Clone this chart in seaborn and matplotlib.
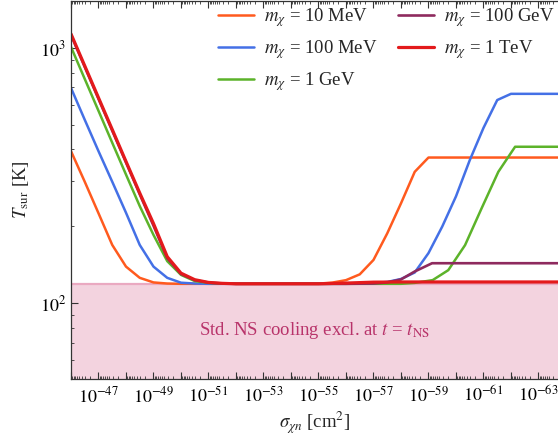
import numpy as np
import pandas as pd
import matplotlib
matplotlib.use("Agg")
import matplotlib.pyplot as plt
import matplotlib.ticker as mticker
import seaborn as sns

# ---- data (log10 of sigma in cm^2, surface temperature in K) ----
labels = [r"$m_\chi$ = 10 MeV", r"$m_\chi$ = 100 MeV", r"$m_\chi$ = 1 GeV",
          r"$m_\chi$ = 100 GeV", r"$m_\chi$ = 1 TeV"]
colors = ["#ff5a1e", "#4470e6", "#5cb32a", "#8e2a5e", "#e31a1c"]

logsig_10MeV = [-46, -46.5, -47, -47.5, -48, -48.5, -49, -49.5, -50, -55, -55.5, -56,
                -56.5, -57, -57.5, -58, -58.5, -59, -64]
T_10MeV = [394, 299, 225, 169, 139, 125.6, 120.5, 119.3, 119, 119.2, 120.3, 123,
           129.6, 147.6, 187.6, 246, 327, 372, 372]

logsig_100MeV = [-46, -46.5, -47, -47.5, -48, -48.5, -49, -49.5, -50, -50.5, -51, -56,
                 -57, -57.5, -58, -58.5, -59, -59.5, -60, -60.5, -61, -61.5, -62, -64]
T_100MeV = [697, 523, 394, 299, 226, 169, 139, 125.6, 120.2, 119.3, 119, 119,
            119.8, 121, 124.3, 131.8, 157, 199.5, 262, 363, 486, 625, 661, 661]

logsig_1GeV = [-46, -46.5, -47, -47.5, -48, -48.5, -49, -49.5, -50, -50.5, -51, -51.5,
               -52, -58, -58.5, -59.15, -59.72, -60.33, -60.93, -61.54, -62.15, -64]
T_1GeV = [1009, 756, 567, 425, 319, 240, 185, 146, 129, 122, 120, 119.3,
          119, 119, 120, 123, 134.6, 168.7, 235, 327, 410, 410]

logsig_100GeV = [-46, -46.5, -47, -47.5, -48, -48.5, -49, -49.5, -50, -50.5, -51, -51.5,
                 -52, -56, -57, -57.5, -58, -58.5, -59.13, -64]
T_100GeV = [1125, 843, 632, 474, 356, 267, 201, 150, 130, 123, 120.3, 119.4,
            119, 119, 119.3, 120.5, 123.8, 133, 143.3, 143.3]

logsig_1TeV = [-46, -46.5, -47, -47.5, -48, -48.5, -49, -49.5, -50, -50.5, -51, -51.5,
               -52, -55, -56, -57, -58, -64]
T_1TeV = [1135, 851, 638, 479, 359, 270, 205, 152, 131, 123.5, 120.5, 119.5,
          119, 119, 119.8, 120.8, 121, 121]

T_excl = 119          # top of excluded band
band_text = r"Std. NS cooling excl. at $t$ = $t_{\rm NS}$"

series = [(logsig_10MeV, T_10MeV), (logsig_100MeV, T_100MeV), (logsig_1GeV, T_1GeV),
          (logsig_100GeV, T_100GeV), (logsig_1TeV, T_1TeV)]

frames = []
for lab, (ls, ts) in zip(labels, series):
    frames.append(pd.DataFrame({"sigma": 10.0 ** np.array(ls, dtype=float),
                                "T": ts, "mass": lab}))
df = pd.concat(frames, ignore_index=True)

# ---- style ----
sns.set_style("ticks")
plt.rcParams["font.family"] = ["Liberation Serif", "DejaVu Serif"]
plt.rcParams["mathtext.fontset"] = "stix"

fig = plt.figure(figsize=(5.58, 4.42), dpi=100)
ax = fig.add_axes([71 / 558, 63 / 442, 487 / 558, 378 / 442])

ylo, yhi = 50.4, 1528
ax.axhspan(ylo, T_excl, color="#f3d3df", lw=0, zorder=0)
ax.axhline(T_excl, color="#eaa9c1", lw=1.6, zorder=0.5)

widths = [1.8, 1.8, 1.8, 1.9, 2.3]
for lab, col, w in zip(labels, colors, widths):
    sns.lineplot(data=df[df["mass"] == lab], x="sigma", y="T", color=col,
                 linewidth=w, label=lab, ax=ax, sort=False, estimator=None)

ax.set_xscale("log")
ax.set_yscale("log")
ax.set_xlim(1e-46, 10 ** -63.71)
ax.set_ylim(ylo, yhi)

# x ticks: every decade, labels on odd exponents
majors = [10.0 ** e for e in range(-46, -65, -1)]
ax.xaxis.set_major_locator(mticker.FixedLocator(majors))
def xfmt(v, pos):
    e = int(round(np.log10(v)))
    return r"$10^{%d}$" % e if e % 2 != 0 else ""
ax.xaxis.set_major_formatter(mticker.FuncFormatter(xfmt))
ax.xaxis.set_minor_locator(mticker.LogLocator(base=10, subs=np.arange(2, 10), numticks=100))
ax.xaxis.set_minor_formatter(mticker.NullFormatter())

ax.yaxis.set_major_locator(mticker.FixedLocator([100, 1000]))
ax.yaxis.set_major_formatter(mticker.FixedFormatter([r"$10^{2}$", r"$10^{3}$"]))
ax.yaxis.set_minor_locator(mticker.LogLocator(base=10, subs=np.arange(2, 10), numticks=100))
ax.yaxis.set_minor_formatter(mticker.NullFormatter())

ax.tick_params(which="both", direction="in", top=True, right=False, colors="#333333",
               labelcolor="black")
ax.tick_params(which="major", length=5, width=0.8, labelsize=13)
ax.tick_params(which="minor", length=2.5, width=0.6)
ax.tick_params(axis="x", pad=5)
for s in ["left", "bottom", "top"]:
    ax.spines[s].set_color("#333333")
    ax.spines[s].set_linewidth(0.9)
ax.spines["right"].set_visible(False)

ax.set_xlabel(r"$\sigma_{\chi n}$ [cm$^2$]", fontsize=13.5, labelpad=3)
ax.set_ylabel(r"$T_{\rm sur}$ [K]", fontsize=13.5, labelpad=6)

ax.text(10 ** -54.87, 78.3, band_text, color="#b8336a", fontsize=13.5,
        ha="center", va="center")

leg = ax.legend(ncol=2, frameon=False, fontsize=13.5, loc="upper left",
                bbox_to_anchor=(218 / 558, 1 - 6 / 442), bbox_transform=fig.transFigure,
                borderaxespad=0, borderpad=0, handlelength=1.9, handletextpad=0.55,
                columnspacing=1.1, labelspacing=0.5)

fig.savefig("out.png", dpi=100)
